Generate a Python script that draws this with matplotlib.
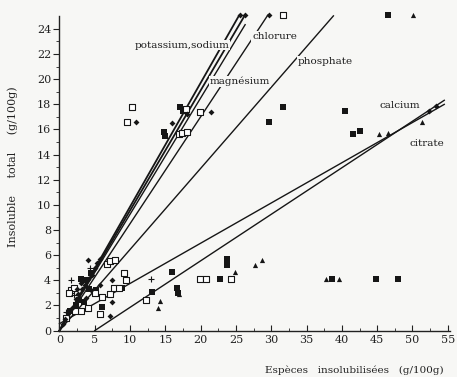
import matplotlib
matplotlib.use("Agg")
import matplotlib.pyplot as plt
import numpy as np

# ---- regression lines (name, slope, intercept, x range) ----
line_names = ["potassium", "sodium", "magnésium", "chlorure", "phosphate", "calcium", "citrate"]
line_slope = [0.985, 0.955, 0.925, 0.85, 0.645, 0.32, 0.37]
line_intercept = [0.0, 0.0, 0.0, 0.0, 0.0, 0.55, -1.85]
line_xstart = [0.0, 0.0, 0.0, 0.0, 0.0, 0.0, 5.0]
line_xend = [25.4, 26.2, 26.3, 29.5, 38.8, 54.5, 54.5]

# ---- scatter points ----
filled_sq_x = [14.8, 14.9, 17.1, 17.5, 31.7, 29.7, 40.4, 41.6, 42.5, 46.5,
               23.7, 23.7, 22.7, 38.6, 44.8, 47.9, 15.9, 8.9, 13.1, 16.6, 16.8,
               6.0, 3.1, 3.6, 4.5, 2.8, 3.5, 4.2, 5.2, 1.5, 2.4, 8.1]
filled_sq_y = [15.8, 15.5, 17.8, 17.5, 17.8, 16.6, 17.5, 15.6, 15.9, 25.1,
               5.7, 5.2, 4.1, 4.1, 4.1, 4.1, 4.7, 3.4, 3.1, 3.4, 3.0,
               1.9, 4.1, 4.0, 4.6, 2.4, 2.3, 3.3, 3.2, 1.6, 2.0, 3.4]

open_sq_x = [10.3, 9.6, 17.0, 17.4, 18.0, 19.9, 17.9, 31.7, 24.3, 19.9, 20.8,
             12.2, 9.2, 9.4, 6.7, 7.2, 7.9, 1.7, 2.1, 1.3, 6.1, 7.2, 5.7, 7.8,
             8.5, 4.0, 3.0, 5.0, 2.2, 1.0]
open_sq_y = [17.8, 16.6, 15.6, 15.7, 15.8, 17.4, 17.6, 25.1, 4.1, 4.1, 4.1,
             2.4, 4.6, 4.0, 5.3, 5.5, 5.6, 3.2, 3.4, 3.0, 2.7, 2.9, 1.3, 3.4,
             3.4, 1.8, 1.6, 3.0, 1.6, 1.0]

diamond_x = [10.8, 16.0, 21.5, 18.0, 25.6, 26.3, 29.7, 53.3, 52.3, 4.0, 5.7,
             7.5, 7.5, 7.1, 5.8, 0.5, 0.8, 1.2, 1.8, 2.3, 2.7, 3.2, 3.6, 4.1,
             4.6, 5.1, 5.3, 3.0, 2.5, 4.5, 3.8]
diamond_y = [16.6, 16.5, 17.4, 17.2, 25.1, 25.1, 25.1, 17.9, 17.5, 5.6, 5.7,
             4.0, 2.3, 1.2, 3.6, 0.5, 0.9, 1.4, 1.8, 2.5, 2.9, 3.3, 3.6, 4.1,
             4.4, 5.0, 5.4, 3.8, 3.3, 3.2, 2.6]

plus_x = [1.7, 12.9, 1.0, 2.0, 4.3]
plus_y = [4.0, 4.1, 1.5, 2.8, 5.0]

tri_x = [50.1, 45.3, 46.5, 51.4, 24.8, 27.7, 28.7, 37.7, 39.6, 14.2, 13.9, 17.0]
tri_y = [25.1, 15.6, 15.7, 16.6, 4.7, 5.2, 5.6, 4.1, 4.1, 2.35, 1.8, 2.9]

x_ticks = [0, 5, 10, 15, 20, 25, 30, 35, 40, 45, 50, 55]
y_ticks = [0, 2, 4, 6, 8, 10, 12, 14, 16, 18, 20, 22, 24]

# ---- labels ----
label_text = ["potassium,sodium", "chlorure", "magnésium", "phosphate", "calcium", "citrate"]
label_x = [24.1, 27.3, 21.3, 33.8, 45.3, 49.6]
label_y = [22.7, 23.4, 19.8, 21.4, 17.9, 14.9]
label_ha = ["right", "left", "left", "left", "left", "left"]

serif = ["DejaVu Serif"]
ink = "#161616"
bg = "#f7f7f5"

fig = plt.figure(figsize=(4.57, 3.77), dpi=100)
fig.patch.set_facecolor(bg)
ax = fig.add_axes([0.130, 0.123, 0.8545, 0.834])
ax.set_facecolor(bg)

for s, b, x0, x1, nm in zip(line_slope, line_intercept, line_xstart, line_xend, line_names):
    xs = np.array([x0, x1])
    lw = 1.3 if nm in ("potassium", "sodium") else 1.0
    ax.plot(xs, s * xs + b, color=ink, lw=lw, zorder=2, clip_on=False)

ms = 13
ax.scatter(filled_sq_x, filled_sq_y, marker="s", s=ms, color=ink, zorder=3, clip_on=False, linewidths=0)
ax.scatter(open_sq_x, open_sq_y, marker="s", s=ms, facecolors="white", edgecolors=ink,
           linewidths=0.8, zorder=3, clip_on=False)
ax.scatter(diamond_x, diamond_y, marker="D", s=9, color=ink, zorder=3, clip_on=False, linewidths=0)
ax.scatter(plus_x, plus_y, marker="+", s=16, color=ink, zorder=3, clip_on=False, linewidths=0.8)
ax.scatter(tri_x, tri_y, marker="^", s=14, color=ink, zorder=3, clip_on=False, linewidths=0)

for t, x, y, ha in zip(label_text, label_x, label_y, label_ha):
    ax.text(x, y, t, ha=ha, va="center", fontsize=7.5, family=serif, color="#1c1c1c",
            zorder=4, bbox=dict(facecolor=bg, edgecolor="none", pad=0.6))

ax.set_xlim(0, 55.3)
ax.set_ylim(0, 25)
for sp in ("top", "right"):
    ax.spines[sp].set_visible(False)
for sp in ("left", "bottom"):
    ax.spines[sp].set_linewidth(1.0)
    ax.spines[sp].set_color("#222222")

ax.set_xticks(x_ticks)
ax.set_xticklabels([str(v) for v in x_ticks], family=serif, fontsize=8)
ax.set_xticks(np.arange(2.5, 55, 5), minor=True)
ax.set_yticks(y_ticks)
ax.set_yticklabels([str(v) for v in y_ticks], family=serif, fontsize=8)
ax.set_yticks(np.arange(1, 25, 2), minor=True)
ax.tick_params(axis="x", which="major", direction="in", length=4, pad=3, colors="#222222")
ax.tick_params(axis="x", which="minor", direction="in", length=2.5, colors="#222222")
ax.tick_params(axis="y", which="major", direction="out", length=4, pad=2, colors="#222222")
ax.tick_params(axis="y", which="minor", direction="out", length=2.5, colors="#222222")

ax.set_ylabel("Insoluble     total     (g/100g)", family=serif, fontsize=8, color="#222222")
ax.yaxis.set_label_coords(-0.105, 0.52)
ax.set_xlabel("Espèces   insolubilisées   (g/100g)", family=serif, fontsize=7.5, color="#222222")
ax.xaxis.set_label_coords(0.755, -0.11)

fig.savefig("out.png", dpi=100, facecolor=fig.get_facecolor())
